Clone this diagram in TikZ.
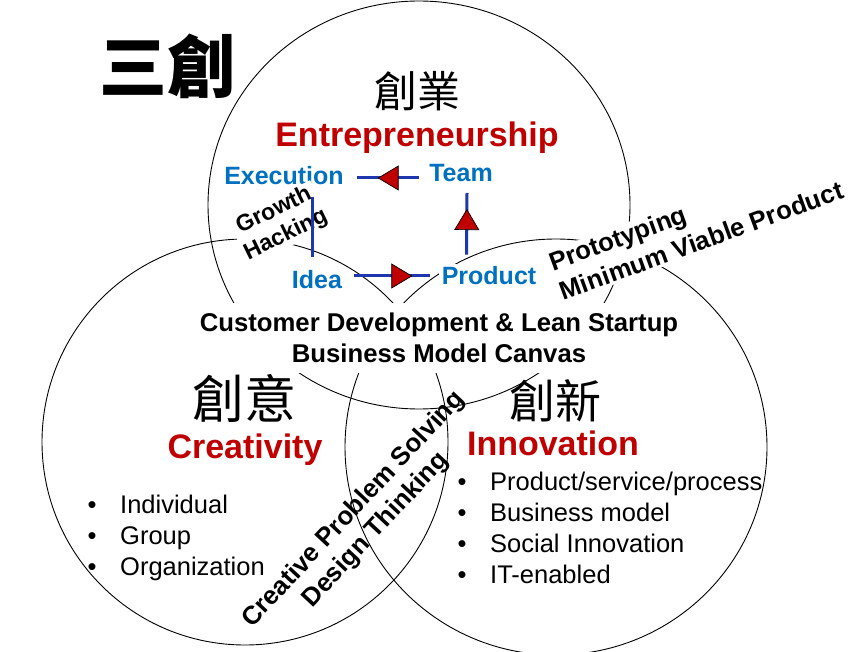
\documentclass[tikz,border=0pt]{standalone}
\usepackage{fontspec}
\setmainfont{Liberation Sans}
\newfontfamily\cjk{Noto Sans CJK TC}
\usetikzlibrary{calc,decorations.markings}
\definecolor{redT}{RGB}{192,0,0}
\definecolor{blueT}{RGB}{0,112,192}
\definecolor{blueL}{RGB}{30,55,175}
\begin{document}
\begin{tikzpicture}[x=1pt,y=-1pt,
  ring/.style={draw=black,line width=0.9pt},
  heading/.style={font=\fontsize{34}{40}\selectfont\bfseries,text=redT,anchor=base,inner sep=0pt},
  han/.style={inner sep=0pt},
  stage/.style={font=\fontsize{25}{30}\selectfont\bfseries,text=blueT,anchor=base,inner sep=3pt,fill=white},
  item/.style={font=\fontsize{25.5}{31}\selectfont,anchor=base west,inner sep=0pt},
  dot/.style={font=\fontsize{25.5}{31}\selectfont,anchor=base,inner sep=0pt},
  flow/.style={draw=blueL,line width=3pt},
  tri/.style={postaction={decorate,decoration={markings,mark=at position #1 with {\filldraw[fill=redT,draw=black,line width=0.7pt] (0,0) -- (-20,-12) -- (-20,12) -- cycle;}}}}
]
\useasboundingbox (0,0) rectangle (851,652);
\fill[white] (0,0) rectangle (851,652);

% circles
\draw[ring] (419,205) ellipse [x radius=211, y radius=204];
\draw[ring] (245,442) circle [radius=203];
\draw[ring] (556,447) ellipse [x radius=211, y radius=208];

% title
\node[han,font=\cjk\bfseries\fontsize{68}{70}\selectfont] (title) at (167,66) {三創};

% entrepreneurship
\node[han,font=\cjk\fontsize{43}{46}\selectfont] (cy) at (417,91) {創業};
\node[heading] (ent) at (417,147) {Entrepreneurship};

% cycle
\node[stage] (exec) at (284,185) {Execution};
\node[stage] (team) at (461,182) {Team};
\node[stage] (idea) at (317,288) {Idea};
\node[stage] (prod) at (489,285) {Product};

% rotated notes
\node[rotate=26,align=center,fill=white,inner sep=1pt,font=\fontsize{23}{27}\selectfont\bfseries] (gh) at (280,223) {Growth\\Hacking};
\node[rotate=20,align=left,fill=white,inner sep=2pt,font=\fontsize{25.7}{31}\selectfont\bfseries] (pm) at (696,226) {Prototyping\\Minimum Viable Product};
\node[rotate=47,align=center,inner sep=0pt,font=\fontsize{25.8}{30}\selectfont\bfseries] (cps) at (365,520) {Creative Problem Solving\\Design Thinking};

% centre
\node[align=center,fill=white,inner xsep=4pt,inner ysep=10pt,font=\fontsize{25.7}{31}\selectfont\bfseries] (cd) at (439,338) {Customer Development \& Lean Startup\\Business Model Canvas};

% creativity
\node[han,font=\cjk\fontsize{52}{56}\selectfont] (cyi) at (244,398) {創意};
\node[heading] (cre) at (245,458) {Creativity};
\node[dot] (b1) at (92,513) {•};
\node[item] (l1) at (120,513) {Individual};
\node[dot] (b2) at (92,544) {•};
\node[item] (l2) at (120,544) {Group};
\node[dot] (b3) at (92,575) {•};
\node[item] (l3) at (120,575) {Organization};

% innovation
\node[han,font=\cjk\fontsize{46}{50}\selectfont] (cx) at (555,401) {創新};
\node[heading] (inn) at (553,455) {Innovation};
\node[dot] (c1) at (462,490) {•};
\node[item] (r1) at (490,490) {Product/service/process};
\node[dot] (c2) at (462,521) {•};
\node[item] (r2) at (490,521) {Business model};
\node[dot] (c3) at (462,552) {•};
\node[item] (r3) at (490,552) {Social Innovation};
\node[dot] (c4) at (462,583) {•};
\node[item] (r4) at (490,583) {IT-enabled};

% cycle connectors
\draw[flow,tri=0.656] ($(team.base west)+(-7,-4)$) -- ($(exec.base east)+(10,-7)$);
\draw[flow,tri=0.73] ($(prod.north west)+(28,-9)$) -- ($(team.base)+(6,11)$);
\draw[flow,tri=0.763] ($(idea.base east)+(9,-12)$) -- ($(prod.base west)+(-9,-9)$);
\draw[flow] ($(exec.base)+(28,12)$) -- ($(idea.base)+(-5,-31)$);
\end{tikzpicture}
\end{document}
